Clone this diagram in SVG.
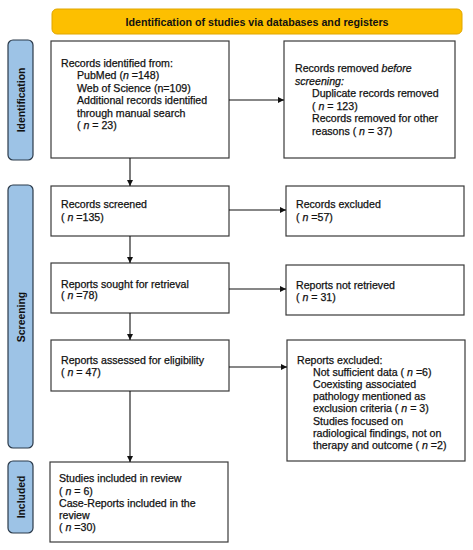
<svg xmlns="http://www.w3.org/2000/svg" width="473" height="550" viewBox="0 0 473 550">
<style>
text{font-family:"Liberation Sans",Arial,sans-serif;font-size:10.6px;fill:#111;stroke:#111;stroke-width:0.25}
.box{fill:#fff;stroke:#3a3a3a;stroke-width:1.2}
.side{fill:#9dc3e6;stroke:#2b3a4a;stroke-width:1.2}
.lbl{font-weight:bold;font-size:10.4px;text-anchor:middle;stroke-width:0}
.conn{stroke:#111;stroke-width:1.1;fill:none}
</style>
<defs>
<marker id="ah" viewBox="0 0 10 10" refX="10" refY="5" markerWidth="6" markerHeight="6" orient="auto" markerUnits="userSpaceOnUse"><path d="M0,0 L10,5 L0,10 z" fill="#111"/></marker>
</defs>
<g id="banner">
<rect x="52" y="9" width="410" height="25" rx="5" fill="#fdbf00" stroke="#e0a600" stroke-width="1"/>
<text x="257" y="25.5" text-anchor="middle" font-weight="bold" style="font-size:10.7px;stroke-width:0">Identification of studies via databases and registers</text>
</g>
<g id="side-identification">
<rect class="side" x="8" y="40" width="25" height="120" rx="5"/>
<text class="lbl" transform="translate(24.5,100) rotate(-90)">Identification</text>
</g>
<g id="side-screening">
<rect class="side" x="8" y="185" width="25" height="263" rx="5"/>
<text class="lbl" transform="translate(24.5,317) rotate(-90)">Screening</text>
</g>
<g id="side-included">
<rect class="side" x="8" y="461" width="25" height="72" rx="5"/>
<text class="lbl" transform="translate(24.5,497) rotate(-90)">Included</text>
</g>
<g id="n-identified">
<rect class="box" x="51" y="41" width="178" height="117"/>
<text x="61" y="66.5">Records identified from:</text>
<text x="77" y="79">PubMed (<tspan font-style="italic">n</tspan> =148)</text>
<text x="77" y="91.5">Web of Science (n=109)</text>
<text x="77" y="104">Additional records identified</text>
<text x="77" y="116.5">through manual search</text>
<text x="77" y="129">( <tspan font-style="italic">n</tspan> = 23)</text>
</g>
<g id="n-removed">
<rect class="box" x="284" y="41" width="171" height="117"/>
<text x="295" y="72">Records removed <tspan font-style="italic">before</tspan></text>
<text x="295" y="84.5" font-style="italic">screening:</text>
<text x="312" y="97">Duplicate records removed</text>
<text x="312" y="109.5">( <tspan font-style="italic">n</tspan> = 123)</text>
<text x="312" y="122">Records removed for other</text>
<text x="312" y="134.5">reasons ( <tspan font-style="italic">n</tspan> = 37)</text>
</g>
<g id="n-screened">
<rect class="box" x="51" y="186" width="178" height="50"/>
<text x="61" y="208">Records screened</text>
<text x="61" y="220.5">( <tspan font-style="italic">n</tspan> =135)</text>
</g>
<g id="n-excluded">
<rect class="box" x="286" y="186" width="178" height="50"/>
<text x="296" y="208">Records excluded</text>
<text x="296" y="220.5">( <tspan font-style="italic">n</tspan> =57)</text>
</g>
<g id="n-sought">
<rect class="box" x="51" y="263" width="178" height="50"/>
<text x="61" y="287.5">Reports sought for retrieval</text>
<text x="61" y="299">( <tspan font-style="italic">n</tspan> =78)</text>
</g>
<g id="n-notretrieved">
<rect class="box" x="286" y="265" width="178" height="50"/>
<text x="296" y="288.5">Reports not retrieved</text>
<text x="296" y="300.5">( <tspan font-style="italic">n</tspan> = 31)</text>
</g>
<g id="n-assessed">
<rect class="box" x="51" y="340" width="178" height="51"/>
<text x="61" y="364">Reports assessed for eligibility</text>
<text x="61" y="376">( <tspan font-style="italic">n</tspan> = 47)</text>
</g>
<g id="n-reportsexcluded">
<rect class="box" x="287" y="340" width="178" height="121"/>
<text x="297" y="363.5">Reports excluded:</text>
<text x="313" y="375.7">Not sufficient data ( <tspan font-style="italic">n</tspan>  =6)</text>
<text x="313" y="387.9">Coexisting associated</text>
<text x="313" y="400.1">pathology mentioned as</text>
<text x="313" y="412.3">exclusion criteria ( <tspan font-style="italic">n</tspan>  = 3)</text>
<text x="313" y="424.5">Studies focused on</text>
<text x="313" y="436.7">radiological findings, not on</text>
<text x="313" y="448.9">therapy and outcome ( <tspan font-style="italic">n</tspan> =2)</text>
</g>
<g id="n-included">
<rect class="box" x="50" y="462" width="178" height="80"/>
<text x="59" y="482.3">Studies included in review</text>
<text x="59" y="494.5">( <tspan font-style="italic">n</tspan>  = 6)</text>
<text x="59" y="506.8">Case-Reports included in the</text>
<text x="59" y="519">review</text>
<text x="59" y="531.3">( <tspan font-style="italic">n</tspan> =30)</text>
</g>
<g id="connectors">
<line class="conn" x1="229" y1="100" x2="284" y2="100" marker-end="url(#ah)"/>
<line class="conn" x1="130" y1="158" x2="130" y2="186" marker-end="url(#ah)"/>
<line class="conn" x1="229" y1="210" x2="286" y2="210" marker-end="url(#ah)"/>
<line class="conn" x1="130" y1="236" x2="130" y2="263" marker-end="url(#ah)"/>
<line class="conn" x1="229" y1="289" x2="286" y2="289" marker-end="url(#ah)"/>
<line class="conn" x1="130" y1="313" x2="130" y2="340" marker-end="url(#ah)"/>
<line class="conn" x1="229" y1="367" x2="287" y2="367" marker-end="url(#ah)"/>
<line class="conn" x1="130" y1="391" x2="130" y2="462" marker-end="url(#ah)"/>
</g>
</svg>
